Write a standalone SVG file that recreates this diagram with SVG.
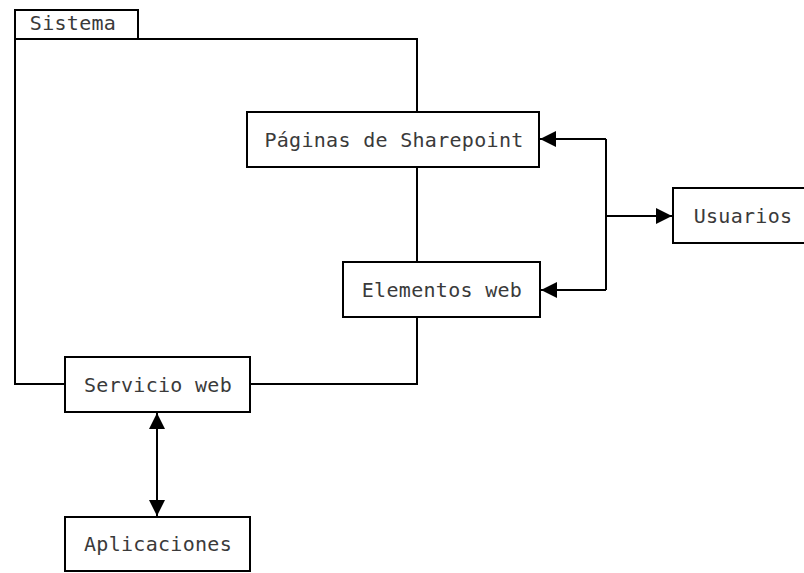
<svg xmlns="http://www.w3.org/2000/svg" width="804" height="573" viewBox="0 0 804 573">
  <style>
    .box { fill: #fff; stroke: #000; stroke-width: 2; }
    .line { fill: none; stroke: #000; stroke-width: 2; }
    .label { font-family: "DejaVu Sans Mono", "Liberation Mono", monospace; font-size: 20px; letter-spacing: 0.3px; fill: #3a3a3a; text-anchor: middle; }
  </style>
  <defs>
    <marker id="arrow" viewBox="0 0 16 16" refX="16" refY="8" markerWidth="16" markerHeight="16" markerUnits="userSpaceOnUse" orient="auto-start-reverse">
      <path d="M0,0 L16,8 L0,16 Z" fill="#000"/>
    </marker>
  </defs>
  <rect width="804" height="573" fill="#fff"/>

  <!-- System frame (folder shape) -->
  <g id="sistema">
    <rect class="box" x="15" y="10" width="123" height="29"/>
    <text class="label" x="73" y="30">Sistema</text>
    <path class="line" d="M138,39 H417 V112"/>
    <path class="line" d="M15,39 V384 H65"/>
  </g>

  <!-- Connectors -->
  <g id="connectors">
    <path class="line" d="M417,167 V262"/>
    <path class="line" d="M417,317 V384 H250"/>
    <path class="line" d="M606,139 V290"/>
    <path class="line" d="M606,139 H540" marker-end="url(#arrow)"/>
    <path class="line" d="M606,290 H541" marker-end="url(#arrow)"/>
    <path class="line" d="M606,216 H672" marker-end="url(#arrow)"/>
    <path class="line" d="M157,413 V516" marker-start="url(#arrow)" marker-end="url(#arrow)"/>
  </g>

  <g id="paginas">
    <rect class="box" x="247" y="112" width="292" height="55"/>
    <text class="label" x="394" y="147">Páginas de Sharepoint</text>
  </g>

  <g id="elementos">
    <rect class="box" x="343" y="262" width="197" height="55"/>
    <text class="label" x="442" y="297">Elementos web</text>
  </g>

  <g id="usuarios">
    <rect class="box" x="673" y="188" width="140" height="55"/>
    <text class="label" x="743" y="223">Usuarios</text>
  </g>

  <g id="servicio">
    <rect class="box" x="65" y="357" width="185" height="55"/>
    <text class="label" x="158" y="392">Servicio web</text>
  </g>

  <g id="aplicaciones">
    <rect class="box" x="65" y="517" width="185" height="54"/>
    <text class="label" x="158" y="551">Aplicaciones</text>
  </g>
</svg>
